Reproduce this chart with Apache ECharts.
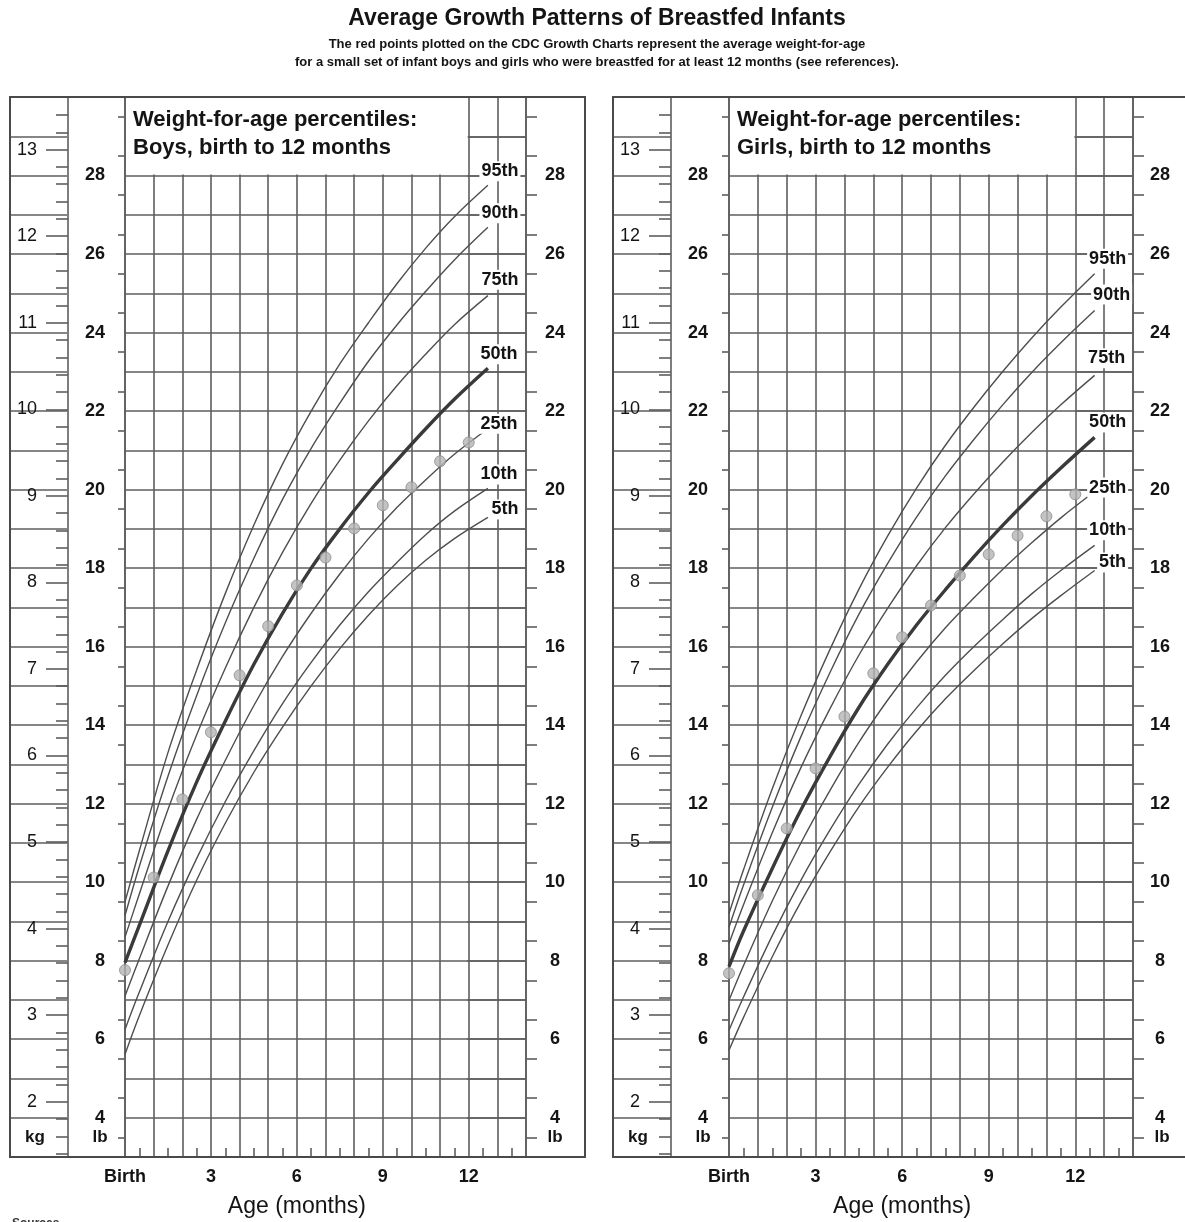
<!DOCTYPE html>
<html><head><meta charset="utf-8">
<script src="https://cdn.jsdelivr.net/npm/echarts@6/dist/echarts.min.js"></script>
<style>html,body{margin:0;padding:0;background:#fff}#c{width:1185px;height:1222px}</style>
</head><body><div id="c"></div>
<script>
// ---------------- data (weights in pounds, ages in months) ----------------
const pointAges = [0,1,2,3,4,5,6,7,8,9,10,11,12];
const curveAges = [0,0.5,1.5,2.5,3.5,4.5,5.5,6.5,7.5,8.5,9.5,10.5,11.5,12.67];
const percentileNames = ['95th','90th','75th','50th','25th','10th','5th'];

const boysP95 = [9.5,10.8,13.3,15.4,17.35,19.1,20.65,22.0,23.2,24.25,25.25,26.15,26.95,27.75];
const boysP90 = [9.15,10.4,12.7,14.75,16.6,18.25,19.75,21.05,22.2,23.27,24.2,25.05,25.85,26.68];
const boysP75 = [8.6,9.7,11.85,13.75,15.45,17.0,18.4,19.65,20.75,21.75,22.65,23.45,24.2,24.94];
const boysP50 = [7.95,8.9,10.8,12.55,14.1,15.55,16.85,18.0,19.0,19.92,20.75,21.55,22.3,23.09];
const boysP25 = [7.1,8.05,9.9,11.6,13.1,14.5,15.75,16.85,17.85,18.75,19.55,20.25,20.9,21.55];
const boysP10 = [6.25,7.2,9.0,10.6,12.05,13.35,14.55,15.6,16.55,17.4,18.15,18.85,19.45,20.03];
const boysP5  = [5.62,6.6,8.4,10.05,11.5,12.8,13.95,15.0,15.95,16.8,17.55,18.2,18.75,19.29];

const girlsP95 = [9.2,10.31,12.38,14.25,15.93,17.46,18.82,20.04,21.13,22.11,23.02,23.87,24.65,25.5];
const girlsP90 = [8.85,9.92,11.91,13.72,15.34,16.82,18.12,19.3,20.35,21.29,22.17,22.99,23.74,24.56];
const girlsP75 = [8.44,9.42,11.26,12.93,14.42,15.78,16.98,18.06,19.03,19.9,20.71,21.46,22.16,22.91];
const girlsP50 = [7.85,8.75,10.35,11.85,13.2,14.45,15.55,16.55,17.45,18.3,19.1,19.85,20.55,21.33];
const girlsP25 = [6.99,7.87,9.52,11.01,12.34,13.56,14.64,15.61,16.48,17.25,17.98,18.65,19.28,19.95];
const girlsP10 = [6.23,7.07,8.64,10.06,11.33,12.49,13.52,14.44,15.27,16.01,16.7,17.35,17.94,18.58];
const girlsP5  = [5.72,6.55,8.1,9.51,10.77,11.92,12.93,13.85,14.67,15.4,16.08,16.72,17.3,17.94];

const boysPoints  = [7.76,10.12,12.11,13.82,15.27,16.52,17.56,18.27,19.01,19.6,20.06,20.72,21.2];
const girlsPoints = [7.68,9.67,11.37,12.9,14.22,15.32,16.24,17.05,17.81,18.35,18.83,19.32,19.88];

const lbLabelValues = [4,6,8,10,12,14,16,18,20,22,24,26,28];
const kgLabelValues = [2,3,4,5,6,7,8,9,10,11,12,13];
const monthLabelValues = [0,3,6,9,12];

const titleText = 'Average Growth Patterns of Breastfed Infants';
const subtitleLines = [
  'The red points plotted on the CDC Growth Charts represent the average weight-for-age',
  'for a small set of infant boys and girls who were breastfed for at least 12 months (see references).'
];
const boxLine1 = 'Weight-for-age percentiles:';
const boysBoxLine2 = 'Boys, birth to 12 months';
const girlsBoxLine2 = 'Girls, birth to 12 months';

// ---------------- layout / style ----------------
const LB_PER_KG = 2.20462;
const LB_MIN = 3, LB_MAX = 30;
const KG_MIN = LB_MIN / LB_PER_KG, KG_MAX = LB_MAX / LB_PER_KG;
const kgMinorValues = [];
for (let k = 7; k <= 67; k++) { if (k % 5) kgMinorValues.push(+(k * 0.2).toFixed(1)); }

const FONT = '"Liberation Sans", Arial, sans-serif';
const TXT = '#141414';
const LINE = '#5e5e5e';
const LW = 1.6;
const TOP = 97, H = 1060;

const panels = [
  {frameL:10, colL:68, plotL:125, plotR:526, frameR:585, line2: boysBoxLine2,
   curves:[boysP95,boysP90,boysP75,boysP50,boysP25,boysP10,boysP5], points: boysPoints,
   offsets:[[12,-14],[12,-14],[12,-16],[11,-14],[11,-5],[11,-14],[17,-8]]},
  {frameL:613, colL:671, plotL:729, plotR:1133, frameR:1190, line2: girlsBoxLine2,
   curves:[girlsP95,girlsP90,girlsP75,girlsP50,girlsP25,girlsP10,girlsP5], points: girlsPoints,
   offsets:[[13,-15],[17,-16],[12,-17],[13,-15],[13,-4],[13,-15],[18,-8]]}
];

const grids = [], xAxes = [], yAxes = [], series = [], graphics = [];
const lineStyle = {color: LINE, width: LW};

panels.forEach(p => {
  const addGrid = (left, width) => { grids.push({left, top: TOP, width, height: H, containLabel: false, outerBoundsMode: 'none'}); return grids.length - 1; };
  const gPlot = addGrid(p.plotL, p.plotR - p.plotL);
  const gKg = addGrid(p.frameL, p.colL - p.frameL);
  const gCol = addGrid(p.colL, p.plotL - p.colL);
  const gCol2 = addGrid(p.colL, p.plotL - p.colL);
  const gR = addGrid(p.plotR, p.frameR - p.plotR);

  const xPlot = xAxes.length;
  xAxes.push({
    gridIndex: gPlot, type: 'value', min: 0, max: 14, interval: 1, position: 'bottom',
    axisLine: {show: true, lineStyle},
    axisTick: {show: false, inside: true},
    minorTick: {show: true, splitNumber: 2, length: 9, lineStyle},
    axisLabel: {customValues: monthLabelValues, formatter: v => v === 0 ? 'Birth' : String(v),
      color: TXT, fontSize: 18, fontWeight: 'bold', fontFamily: FONT, margin: 11},
    splitLine: {show: true, lineStyle}
  });
  [gKg, gCol, gCol2, gR].forEach(g => xAxes.push({gridIndex: g, type: 'value', show: false, min: 0, max: 1}));

  const yMain = yAxes.length;
  yAxes.push({
    gridIndex: gPlot, type: 'value', min: LB_MIN, max: LB_MAX, interval: 1, position: 'left',
    axisLine: {show: true, lineStyle}, axisTick: {show: false},
    minorTick: {show: true, splitNumber: 2, length: 7, lineStyle},
    axisLabel: {show: false}, splitLine: {show: true, lineStyle}
  });
  yAxes.push({
    gridIndex: gPlot, type: 'value', min: LB_MIN, max: LB_MAX, interval: 1, position: 'right',
    axisLine: {show: true, lineStyle}, axisTick: {show: false},
    minorTick: {show: true, splitNumber: 2, length: 11, lineStyle},
    axisLabel: {show: false}, splitLine: {show: false}
  });
  // left lb column: lines at every pound, even labels
  yAxes.push({
    gridIndex: gKg, type: 'value', min: LB_MIN, max: LB_MAX, interval: 1, position: 'right',
    axisLine: {show: false},
    axisTick: {show: true, length: p.plotL - p.colL, lineStyle},
    axisLabel: {customValues: lbLabelValues, align: 'right', margin: 41, color: TXT, fontSize: 18,
      fontWeight: 'bold', fontFamily: FONT, backgroundColor: '#fff', padding: [0, 4]},
    splitLine: {show: false}
  });
  // kg major
  yAxes.push({
    gridIndex: gCol, type: 'value', min: KG_MIN, max: KG_MAX, position: 'left',
    axisLine: {show: true, lineStyle},
    axisTick: {show: true, customValues: kgLabelValues, length: 22, lineStyle},
    axisLabel: {customValues: kgLabelValues, margin: 31, color: TXT, fontSize: 18, fontFamily: FONT},
    splitLine: {show: false}
  });
  // kg minor
  yAxes.push({
    gridIndex: gCol2, type: 'value', min: KG_MIN, max: KG_MAX, position: 'left',
    axisLine: {show: false},
    axisTick: {show: true, customValues: kgMinorValues, length: 12, lineStyle},
    axisLabel: {show: false}, splitLine: {show: false}
  });
  // right lb column
  yAxes.push({
    gridIndex: gR, type: 'value', min: LB_MIN, max: LB_MAX, interval: 1, position: 'right',
    axisLine: {show: false},
    axisTick: {show: true, inside: true, length: p.frameR - p.plotR, lineStyle},
    axisLabel: {customValues: lbLabelValues, inside: true, align: 'center', margin: 30, color: TXT,
      fontSize: 18, fontWeight: 'bold', fontFamily: FONT, backgroundColor: '#fff', padding: [0, 4]},
    splitLine: {show: false}
  });

  // percentile curves
  p.curves.forEach((vals, i) => {
    const name = percentileNames[i];
    const data = curveAges.map((a, j) => [a, vals[j]]);
    const last = data[data.length - 1];
    series.push({
      type: 'line', xAxisIndex: xPlot, yAxisIndex: yMain, data, smooth: 0.35,
      symbol: 'none', silent: true, z: 3,
      lineStyle: {color: name === '50th' ? '#3a3a3a' : '#4e4e4e', width: name === '50th' ? 3.4 : 1.4},
      markPoint: {
        symbol: 'rect', symbolSize: 1, silent: true, itemStyle: {color: 'rgba(0,0,0,0)'},
        label: {show: true, position: 'inside', formatter: name, color: TXT, fontSize: 18,
          fontWeight: 'bold', fontFamily: FONT, backgroundColor: '#fff', padding: [1, 2], offset: p.offsets[i]},
        data: [{coord: last}]
      }
    });
  });
  series.push({
    type: 'scatter', xAxisIndex: xPlot, yAxisIndex: yMain, z: 4, silent: true,
    data: pointAges.map((a, j) => [a, p.points[j]]),
    symbolSize: 11, itemStyle: {color: '#b4b4b4', borderColor: '#8c8c8c', borderWidth: 1}
  });

  // decorations
  const W = p.plotR - p.plotL;
  const boxR = p.plotL + W * 12 / 14;
  const boxB = TOP + H * (LB_MAX - 28) / (LB_MAX - LB_MIN);
  graphics.push({type: 'rect', z: 5, shape: {x: p.plotL + 1, y: TOP + 1, width: boxR - p.plotL - 2, height: boxB - TOP - 2},
    style: {fill: '#fff'}});
  graphics.push({type: 'text', z: 6, x: p.plotL + 8, y: 120, style: {text: boxLine1, font: 'bold 22px ' + FONT, fill: TXT, verticalAlign: 'middle'}});
  graphics.push({type: 'text', z: 6, x: p.plotL + 8, y: 148, style: {text: p.line2, font: 'bold 22px ' + FONT, fill: TXT, verticalAlign: 'middle'}});
  graphics.push({type: 'rect', z: 7, shape: {x: p.frameL, y: TOP, width: p.frameR - p.frameL, height: H},
    style: {fill: 'none', stroke: '#4a4a4a', lineWidth: 2}});
  const yLbl = TOP + H * (LB_MAX - 3.5) / (LB_MAX - LB_MIN);
  graphics.push({type: 'text', z: 6, x: p.frameL + 25, y: yLbl, style: {text: 'kg', font: 'bold 17px ' + FONT, fill: TXT, align: 'center', verticalAlign: 'middle'}});
  graphics.push({type: 'text', z: 6, x: p.colL + 32, y: yLbl, style: {text: 'lb', font: 'bold 17px ' + FONT, fill: TXT, align: 'center', verticalAlign: 'middle', backgroundColor: '#fff'}});
  graphics.push({type: 'text', z: 6, x: p.plotR + 29, y: yLbl, style: {text: 'lb', font: 'bold 17px ' + FONT, fill: TXT, align: 'center', verticalAlign: 'middle', backgroundColor: '#fff'}});
  graphics.push({type: 'text', z: 6, x: p.plotL + W * 6 / 14, y: 1207, style: {text: 'Age (months)', font: '23px ' + FONT, fill: TXT, align: 'center', verticalAlign: 'middle'}});
});

graphics.push({type: 'text', z: 6, x: 597, y: 19, style: {text: titleText, font: 'bold 23px ' + FONT, fill: TXT, align: 'center', verticalAlign: 'middle'}});
subtitleLines.forEach((t, i) => graphics.push({type: 'text', z: 6, x: 597, y: 44 + i * 18,
  style: {text: t, font: 'bold 13px ' + FONT, fill: TXT, align: 'center', verticalAlign: 'middle'}}));
graphics.push({type: 'text', z: 6, x: 12, y: 1218, style: {text: 'Sources', font: 'bold 12px ' + FONT, fill: '#333'}});

const chart = echarts.init(document.getElementById('c'), null, {renderer: 'canvas'});
chart.setOption({
  animation: false,
  backgroundColor: '#fff',
  grid: grids, xAxis: xAxes, yAxis: yAxes, series,
  graphic: {elements: graphics}
});
</script>
</body></html>
